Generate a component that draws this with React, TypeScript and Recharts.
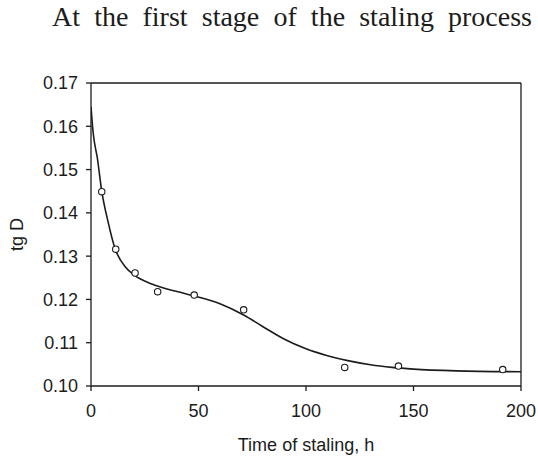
import {
  ComposedChart,
  Line,
  Scatter,
  XAxis,
  YAxis,
  ReferenceLine,
} from 'recharts';

// fitted curve
const curveHours = [0, 1, 3, 5, 8, 11, 16, 20, 28, 41, 48, 60, 71, 80, 90, 100, 110, 120, 130, 140, 150, 170, 200];
const curveTgD = [
  0.1645, 0.1585, 0.1525, 0.145, 0.1378, 0.132, 0.1275, 0.1257, 0.1236, 0.1217, 0.1208,
  0.119, 0.1164, 0.1137, 0.1108, 0.1086, 0.107, 0.1058, 0.1049, 0.1043, 0.1039, 0.1035, 0.1033,
];

// measured points
const pointHours = [5, 11.5, 20.5, 31, 48, 71, 118, 143, 191.5];
const pointTgD = [0.1449, 0.1316, 0.1261, 0.1218, 0.121, 0.1176, 0.1043, 0.1046, 0.1038];

const xTicks = [0, 50, 100, 150, 200];
const yTicks = [0.1, 0.11, 0.12, 0.13, 0.14, 0.15, 0.16, 0.17];

const curve = curveHours.map((x, i) => ({ x, y: curveTgD[i] }));
const points = pointHours.map((x, i) => ({ x, y: pointTgD[i] }));

const ink = '#1c1c1c';
const sans = '"Liberation Sans", Arial, sans-serif';

export default function App() {
  return (
    <div
      style={{
        position: 'absolute',
        left: 0,
        top: 0,
        width: 538,
        height: 458,
        background: '#fff',
        fontFamily: sans,
      }}
    >
      <div
        style={{
          position: 'absolute',
          left: 52,
          top: 1,
          width: 480,
          fontFamily: '"Liberation Serif", "Times New Roman", serif',
          fontSize: 28,
          lineHeight: '32px',
          color: ink,
          textAlign: 'justify',
          textAlignLast: 'justify',
          whiteSpace: 'nowrap',
        }}
      >
        At the first stage of the staling process
      </div>

      <div style={{ position: 'absolute', left: 0, top: 0 }}>
        <ComposedChart
          width={538}
          height={458}
          margin={{ top: 83, right: 17, bottom: 0, left: 0 }}
        >
          <XAxis
            type="number"
            dataKey="x"
            domain={[0, 200]}
            ticks={xTicks}
            allowDataOverflow
            stroke={ink}
            strokeWidth={1.3}
            tickSize={5}
            tickMargin={13}
            height={72}
            tick={{ fill: ink, fontSize: 18, fontFamily: sans }}
            label={{
              value: 'Time of staling, h',
              position: 'insideBottom',
              offset: 7,
              fill: ink,
              fontSize: 18,
              fontFamily: sans,
            }}
          />
          <YAxis
            type="number"
            dataKey="y"
            domain={[0.1, 0.17]}
            ticks={yTicks}
            allowDataOverflow
            width={91}
            stroke={ink}
            strokeWidth={1.3}
            tickSize={5}
            tickMargin={8}
            tickFormatter={(v) => v.toFixed(2)}
            tick={{ fill: ink, fontSize: 18, fontFamily: sans }}
            label={{
              value: 'tg D',
              angle: -90,
              position: 'center',
              dx: -29,
              fill: ink,
              fontSize: 18,
              fontFamily: sans,
            }}
          />
          <ReferenceLine y={0.17} stroke={ink} strokeWidth={1.3} />
          <ReferenceLine x={200} stroke={ink} strokeWidth={1.3} />
          <Line
            data={curve}
            dataKey="y"
            type="monotone"
            stroke={ink}
            strokeWidth={1.6}
            dot={false}
            activeDot={false}
            isAnimationActive={false}
          />
          <Scatter
            data={points}
            dataKey="y"
            isAnimationActive={false}
            shape={(props: any) => (
              <circle
                cx={props.cx}
                cy={props.cy}
                r={3.2}
                fill="#fff"
                stroke={ink}
                strokeWidth={1.1}
              />
            )}
          />
        </ComposedChart>
      </div>
    </div>
  );
}
